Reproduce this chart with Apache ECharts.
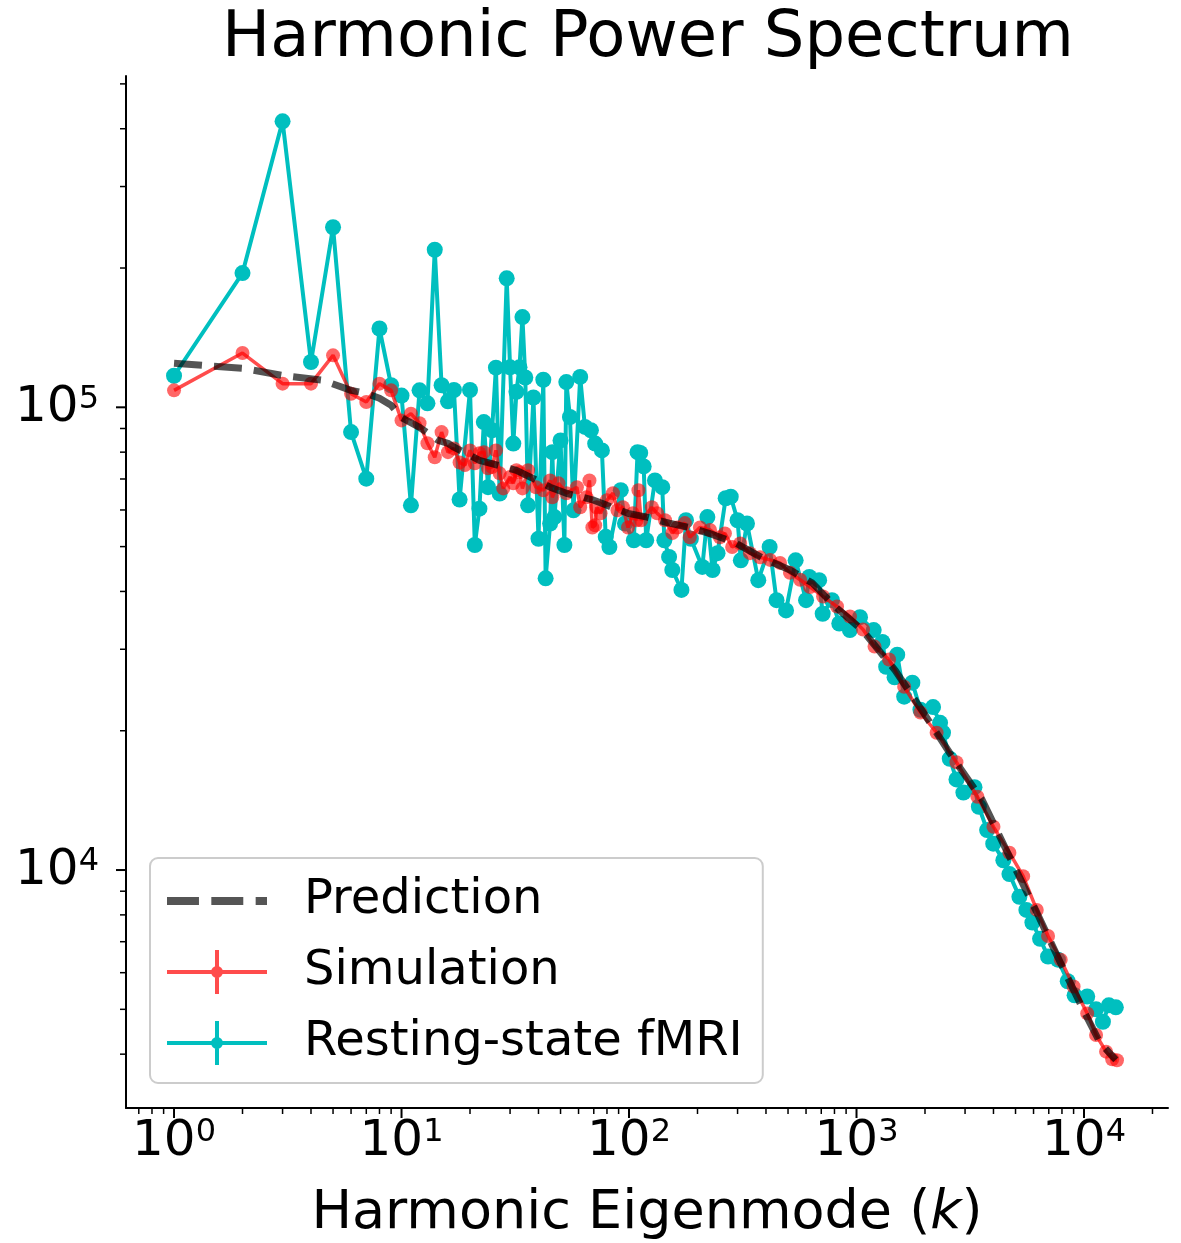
<!DOCTYPE html>
<html>
<head>
<meta charset="utf-8">
<title>Harmonic Power Spectrum</title>
<script src="https://cdn.jsdelivr.net/npm/echarts@6/dist/echarts.min.js"></script>
<style>
html, body { margin: 0; padding: 0; background: #fff; }
#chart { width: 1181px; height: 1243px; }
</style>
</head>
<body>
<div id="chart"></div>
<script>
// axis ranges (log scales)
const X_MIN = 0.615, X_MAX = 23400
const Y_MIN = 3060, Y_MAX = 520000
const FONT = 'DejaVu Sans'

// tick positions and labels
const xMajorTicks = [1, 10, 100, 1000, 10000]
const xTickExponents = ['0', '1', '2', '3', '4']
const xMinorTicks = [0.7, 0.8, 0.9, 2, 3, 4, 5, 6, 7, 8, 9, 20, 30, 40, 50, 60, 70, 80, 90,
  200, 300, 400, 500, 600, 700, 800, 900, 2000, 3000, 4000, 5000, 6000, 7000, 8000, 9000, 20000]
const yMajorTicks = [10000, 100000]
const yTickExponents = ['4', '5']
const yMinorTicks = [4000, 5000, 6000, 7000, 8000, 9000, 20000, 30000, 40000, 50000, 60000,
  70000, 80000, 90000, 200000, 300000, 400000, 500000]

// Resting-state fMRI
const fmriK = [1, 2, 3, 4, 5, 6, 7, 8, 9, 10, 11, 12, 13, 14, 15, 16, 17, 18, 20, 21, 22, 23, 24, 25, 26, 27,
  29, 30, 31, 32, 33, 34, 35, 36, 38, 40, 42, 43, 45, 46, 47, 50, 52, 53, 55, 57, 61, 64, 68, 71, 76, 79, 82,
  92, 96, 105, 109, 112, 116, 119, 130, 140, 143, 150, 155, 170, 178, 187, 210, 221, 233, 245, 266, 280, 300,
  310, 330, 370, 415, 445, 490, 540, 600, 620, 685, 710, 780, 840, 935, 1036, 1190, 1300, 1350, 1470, 1510,
  1620, 1760, 1910, 2170, 2330, 2400, 2570, 2750, 2950, 3300, 3450, 3750, 3990, 4420, 4700, 5200, 5580, 5930,
  6410, 6950, 7680, 8480, 9090, 10330, 11300, 12110, 12860, 13800]
const fmriPower = [117000, 195000, 415000, 125300, 245000, 88400, 70100, 148000, 111600, 106000, 61400, 108800,
  102000, 219000, 111600, 103000, 109000, 63200, 109000, 50400, 60400, 92900, 67200, 89200, 121800, 65100,
  190000, 122000, 83500, 108000, 122000, 156700, 116000, 61400, 105000, 52000, 114700, 42700, 56100, 80000,
  57900, 84800, 50400, 113400, 95300, 59900, 116300, 90700, 89200, 83500, 80700, 52500, 49900, 66200, 56100,
  51600, 80000, 79700, 74500, 51600, 69500, 67200, 51600, 47500, 44500, 40300, 57000, 52000, 45200, 57900,
  44500, 48400, 63600, 64100, 57000, 46700, 56100, 42300, 49900, 38300, 36400, 46700, 38300, 43000, 42300,
  35800, 38300, 34100, 33000, 35200, 33000, 31100, 27500, 26100, 29200, 23700, 25400, 22200, 22500, 20800,
  19800, 17400, 15700, 14700, 15100, 13700, 12200, 11400, 10500, 9800, 8750, 8200, 7700, 7100, 6500, 6400,
  5750, 5360, 5330, 5000, 4700, 5100, 5050]

// Simulation
const simK = [1, 2, 3, 4, 5, 6, 7, 8, 9, 10, 11, 12, 13, 14, 15, 16, 17, 18, 19, 20, 21, 22, 23, 24, 25, 26,
  27, 28, 30, 31, 32, 33, 34, 36, 39, 42, 45, 46, 49, 53, 59, 61, 65, 67, 69, 71, 72, 75, 80, 85, 89, 94, 99,
  104, 108, 110, 113, 126, 133, 144, 155, 163, 176, 185, 205, 227, 251, 264, 284, 308, 340, 377, 417, 461, 510,
  565, 625, 713, 821, 936, 1068, 1200, 1390, 1620, 1910, 2250, 2750, 3400, 4000, 4700, 5400, 6200, 6950, 7900,
  9000, 10330, 11300, 12500, 13300, 13960]
const simPower = [108800, 131000, 112500, 112500, 129500, 107000, 102700, 112500, 108800, 93700, 96900, 92400,
  83600, 78000, 88400, 80000, 81500, 76000, 75000, 80700, 75700, 79600, 80000, 73800, 74300, 80700, 72000,
  66800, 70700, 68500, 73100, 72400, 66800, 73100, 67200, 66200, 69500, 63900, 68500, 65200, 67200, 60800,
  63900, 69500, 55000, 55600, 60800, 59000, 63000, 65200, 59900, 60800, 55000, 59000, 57000, 66200, 57000,
  60800, 59000, 57000, 53500, 55000, 56200, 52400, 55000, 54300, 52400, 53400, 49900, 50800, 48400, 47400,
  46800, 46100, 43900, 42400, 40900, 39000, 37100, 35300, 33100, 30400, 28500, 24900, 21900, 19800, 17100,
  14400, 12400, 10900, 9700, 8200, 7200, 6400, 5600, 4900, 4400, 4050, 3900, 3880]

// Prediction
const predK = [1, 2, 3, 4.5, 6, 7, 8, 9, 10, 12, 14.5, 16, 17, 22, 32, 37, 45, 53, 70, 80, 99, 120, 150, 190,
  225, 290, 387, 510, 640, 810, 1060, 1480, 1980, 2570, 3560, 4700, 6200, 7850, 9900, 11770, 13800]
const predPower = [124500, 121400, 117200, 114400, 108800, 107200, 104600, 101000, 95000, 90500, 84800, 83600,
  82000, 76800, 73100, 70600, 67200, 65200, 63000, 61400, 59000, 57900, 56200, 54800, 53400, 51100, 47200,
  44500, 41700, 37000, 33000, 27000, 21800, 17900, 14200, 10700, 8100, 6330, 5000, 4230, 3890]

function pairs (ks, vs) {
  return ks.map((k, i) => [k, vs[i]])
}

const supRich = {
  a: { fontSize: 50, lineHeight: 50, fontFamily: FONT, fill: '#000' },
  b: { fontSize: 32, lineHeight: 22, fontFamily: FONT, fill: '#000', verticalAlign: 'top' }
}

// ticks + tick labels drawn through the axis scales
function renderXTick (params, api) {
  const k = api.value(0)
  const major = api.value(2) === 1
  const px = api.coord([k, Y_MIN])[0]
  const y0 = params.coordSys.y + params.coordSys.height
  const len = major ? 10 : 6
  const children = [{
    type: 'line',
    shape: { x1: px, y1: y0, x2: px, y2: y0 + len },
    style: { stroke: '#000', lineWidth: major ? 2 : 1.5 }
  }]
  if (major) {
    children.push({
      type: 'text',
      x: px,
      y: y0 + len - 1,
      style: {
        text: '{a|10}{b|' + xTickExponents[api.value(3)] + '}',
        align: 'center',
        verticalAlign: 'top',
        rich: supRich
      }
    })
  }
  return { type: 'group', children: children }
}

function renderYTick (params, api) {
  const v = api.value(1)
  const major = api.value(2) === 1
  const py = api.coord([X_MIN, v])[1]
  const x0 = params.coordSys.x
  const len = major ? 10 : 6
  const children = [{
    type: 'line',
    shape: { x1: x0 - len, y1: py, x2: x0, y2: py },
    style: { stroke: '#000', lineWidth: major ? 2 : 1.5 }
  }]
  if (major) {
    children.push({
      type: 'text',
      x: x0 - len - 17,
      y: py + 1,
      style: {
        text: '{a|10}{b|' + yTickExponents[api.value(3)] + '}',
        align: 'right',
        verticalAlign: 'middle',
        rich: supRich
      }
    })
  }
  return { type: 'group', children: children }
}

const xTickData = xMajorTicks.map((k, i) => [k, Y_MIN, 1, i])
  .concat(xMinorTicks.map(k => [k, Y_MIN, 0, 0]))
const yTickData = yMajorTicks.map((v, i) => [X_MIN, v, 1, i])
  .concat(yMinorTicks.map(v => [X_MIN, v, 0, 0]))

const crossIcon = 'path://M0,20H100V24H0Z M48,0H52V44H48Z M56,22A6,6 0 1,1 44,22A6,6 0 1,1 56,22Z'

const myChart = echarts.init(document.getElementById('chart'), null, { renderer: 'canvas' })
myChart.setOption({
  animation: false,
  backgroundColor: '#fff',
  title: {
    text: 'Harmonic Power Spectrum',
    left: 643,
    top: 2,
    textAlign: 'center',
    textStyle: { fontFamily: FONT, fontSize: 64, fontWeight: 'normal', color: '#000' }
  },
  grid: {
    left: 126,
    right: 13,
    top: 76,
    bottom: 135,
    containLabel: false,
    outerBoundsMode: 'none'
  },
  legend: {
    orient: 'vertical',
    left: 150,
    top: 858,
    itemWidth: 100,
    itemHeight: 44,
    itemGap: 23,
    padding: [19, 20, 16, 17],
    backgroundColor: 'rgba(255,255,255,0.8)',
    borderColor: '#cccccc',
    borderWidth: 2,
    borderRadius: 8,
    selectedMode: false,
    textStyle: { fontFamily: FONT, fontSize: 48, lineHeight: 48, color: '#000', padding: [0, 0, 0, 32] },
    data: [
      {
        name: 'Prediction',
        icon: 'path://M0,0H31V8H0Z M43,0H74V8H43Z M86,0H97V8H86Z',
        itemStyle: { color: '#555555', borderWidth: 0, opacity: 1 }
      },
      {
        name: 'Simulation',
        icon: crossIcon,
        itemStyle: { color: '#ff4c4c', borderWidth: 0, opacity: 1 }
      },
      {
        name: 'Resting-state fMRI',
        icon: crossIcon,
        itemStyle: { color: '#00bfbf', borderWidth: 0, opacity: 1 }
      }
    ]
  },
  xAxis: {
    type: 'log',
    min: X_MIN,
    max: X_MAX,
    name: 'Harmonic Eigenmode ({i|k})',
    nameLocation: 'middle',
    nameGap: 79,
    nameTextStyle: {
      fontFamily: FONT,
      fontSize: 54,
      color: '#000',
      rich: { i: { fontFamily: FONT, fontSize: 54, fontStyle: 'italic', color: '#000' } }
    },
    axisLine: { show: true, onZero: false, lineStyle: { color: '#000', width: 2 } },
    axisTick: { show: false },
    axisLabel: { show: false },
    splitLine: { show: false },
    minorTick: { show: false }
  },
  yAxis: {
    type: 'log',
    min: Y_MIN,
    max: Y_MAX,
    axisLine: { show: true, onZero: false, lineStyle: { color: '#000', width: 2 } },
    axisTick: { show: false },
    axisLabel: { show: false },
    splitLine: { show: false },
    minorTick: { show: false }
  },
  series: [
    {
      name: 'Resting-state fMRI',
      type: 'line',
      data: pairs(fmriK, fmriPower),
      symbol: 'circle',
      symbolSize: 16,
      color: '#00bfbf',
      itemStyle: { color: '#00bfbf', borderWidth: 0 },
      lineStyle: { color: '#00bfbf', width: 4 },
      z: 2
    },
    {
      name: 'Simulation',
      type: 'line',
      data: pairs(simK, simPower),
      symbol: 'circle',
      symbolSize: 14,
      color: '#ff0000',
      itemStyle: { color: '#ff0000', opacity: 0.6, borderWidth: 0 },
      lineStyle: { color: '#ff0000', opacity: 0.7, width: 3.5 },
      z: 3
    },
    {
      name: 'Prediction',
      type: 'line',
      data: pairs(predK, predPower),
      showSymbol: false,
      symbol: 'none',
      color: '#555555',
      lineStyle: { color: '#000', opacity: 0.67, width: 7, type: [28, 12], cap: 'butt' },
      z: 4
    },
    {
      type: 'custom',
      silent: true,
      clip: false,
      renderItem: renderXTick,
      data: xTickData,
      encode: { x: 0, y: 1 },
      z: 5
    },
    {
      type: 'custom',
      silent: true,
      clip: false,
      renderItem: renderYTick,
      data: yTickData,
      encode: { x: 0, y: 1 },
      z: 5
    }
  ]
})
</script>
</body>
</html>
